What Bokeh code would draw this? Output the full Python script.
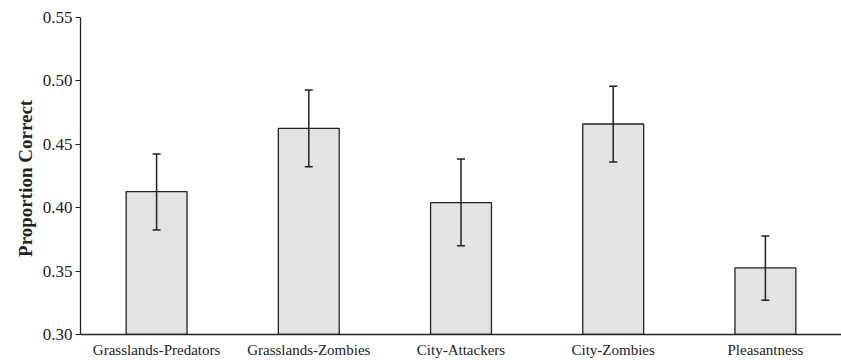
from bokeh.plotting import figure
from bokeh.models import ColumnDataSource, Range1d, FixedTicker, Whisker
from bokeh.embed import file_html
from bokeh.resources import INLINE

categories = ["Grasslands-Predators", "Grasslands-Zombies", "City-Attackers", "City-Zombies", "Pleasantness"]
means = [0.4127, 0.4625, 0.404, 0.466, 0.3525]
err_upper = [0.4423, 0.4928, 0.4384, 0.4957, 0.3776]
err_lower = [0.3825, 0.4323, 0.370, 0.436, 0.327]
y_ticks = [0.30, 0.35, 0.40, 0.45, 0.50, 0.55]

xpos = [i + 0.5 for i in range(len(categories))]
src = ColumnDataSource(dict(x=xpos, top=means, upper=err_upper, lower=err_lower))

p = figure(width=841, height=360, output_backend="svg", toolbar_location=None,
           x_range=Range1d(0, 5.0), y_range=Range1d(0.30, 0.55),
           min_border_left=80, min_border_right=0, min_border_top=17, min_border_bottom=0)
p.outline_line_color = None
p.grid.grid_line_color = None
p.background_fill_color = "white"

p.vbar(x="x", top="top", bottom=0.30, width=0.4, source=src,
       fill_color="#e2e3e2", line_color="#222222", line_width=1.3)
w = Whisker(base="x", upper="upper", lower="lower", source=src, level="overlay",
            line_color="#222222", line_width=1.5)
w.upper_head.size = 8
w.lower_head.size = 8
w.upper_head.line_color = "#222222"
w.lower_head.line_color = "#222222"
w.upper_head.line_width = 1.5
w.lower_head.line_width = 1.5
p.add_layout(w)

font = "Liberation Serif"
p.xaxis.ticker = FixedTicker(ticks=xpos)
p.xaxis.major_label_overrides = {x: c for x, c in zip(xpos, categories)}
p.xaxis.major_tick_line_color = None
p.xaxis.minor_tick_line_color = None
p.xaxis.major_label_text_font = font
p.xaxis.major_label_text_font_size = "15px"
p.xaxis.major_label_text_color = "#222222"
p.xaxis.major_label_standoff = 1
p.xaxis.axis_line_color = "#222222"
p.xaxis.axis_line_width = 1.3

p.yaxis.ticker = FixedTicker(ticks=y_ticks)
p.yaxis.major_label_overrides = {t: f"{t:.2f}" for t in y_ticks}
p.yaxis.minor_tick_line_color = None
p.yaxis.major_tick_out = 5
p.yaxis.major_tick_in = 0
p.yaxis.major_tick_line_color = "#222222"
p.yaxis.major_label_text_font = font
p.yaxis.major_label_text_font_size = "17px"
p.yaxis.major_label_text_color = "#222222"
p.yaxis.major_label_standoff = 3
p.yaxis.axis_line_color = "#222222"
p.yaxis.axis_line_width = 1.3
p.yaxis.axis_label = "Proportion  Correct"
p.yaxis.axis_label_text_font = font
p.yaxis.axis_label_text_font_style = "bold"
p.yaxis.axis_label_text_font_size = "19px"
p.yaxis.axis_label_text_color = "#222222"
p.yaxis.axis_label_standoff = 4

open("out.html", "w").write(file_html(p, INLINE))
